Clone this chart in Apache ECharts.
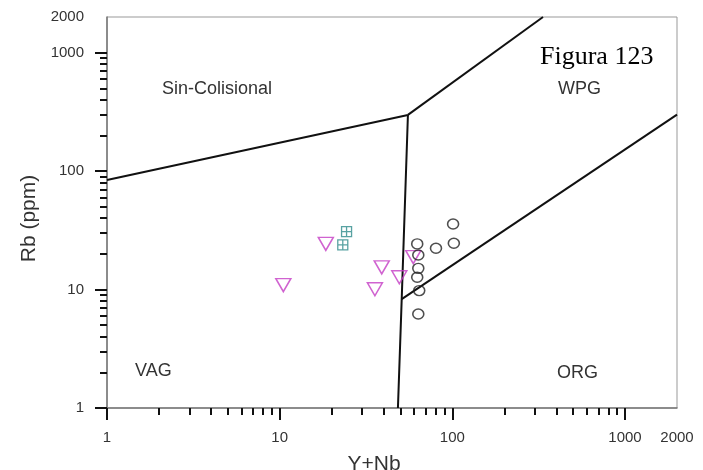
<!DOCTYPE html>
<html>
<head>
<meta charset="utf-8">
<script src="https://cdn.jsdelivr.net/npm/echarts@6/dist/echarts.min.js"></script>
<style>
html, body { margin: 0; padding: 0; background: #fff; }
#chart { width: 703px; height: 470px; }
</style>
</head>
<body>
<div id="chart"></div>
<script>
// tick values for both log axes
var majorTicks = [1, 10, 100, 1000];
var minorTicks = [2, 3, 4, 5, 6, 7, 8, 9, 20, 30, 40, 50, 60, 70, 80, 90, 200, 300, 400, 500, 600, 700, 800, 900];
var tickLabels = [1, 10, 100, 1000, 2000];

// field boundaries [Y+Nb, Rb]
var lineSynColg = [[1, 84], [55.3, 298]];
var lineWpgTop = [[55.3, 298], [335, 2000]];
var lineVagWpg = [[55.3, 298], [50.9, 8.3], [48.4, 1]];
var lineOrg = [[50.9, 8.3], [2000, 300]];

// samples [Y+Nb, Rb]
var triangles = [[10.5, 10.9], [18.5, 24.3], [39, 15.4], [35.6, 10.06], [49.3, 12.7], [59.4, 18.8]];
var squares = [[23.2, 23.8], [24.4, 30.8]];
var circles = [[101, 35.8], [62.6, 24.3], [80.4, 22.3], [102, 24.6], [63.5, 19.6], [63.5, 15.1], [62.6, 12.7], [64.3, 9.8], [63.5, 6.22]];

var font = 'Liberation Sans, Arial, sans-serif';
function fmt(v) { return String(Math.round(v)); }

function logAxis(extra) {
    var a = {
        type: 'log',
        logBase: 10,
        min: 1,
        max: 2000,
        splitLine: { show: false },
        axisLine: { show: true, lineStyle: { color: '#777', width: 1.5 } },
        axisTick: { show: true, inside: false, length: 12, customValues: majorTicks, lineStyle: { color: '#111', width: 2 } }
    };
    for (var k in extra) a[k] = extra[k];
    return a;
}

function minorAxis(pos) {
    return {
        type: 'log',
        logBase: 10,
        min: 1,
        max: 2000,
        position: pos,
        splitLine: { show: false },
        axisLine: { show: false },
        axisTick: { show: true, inside: false, length: 7, customValues: minorTicks, lineStyle: { color: '#111', width: 2 } },
        axisLabel: { show: false }
    };
}

function boundary(data) {
    return {
        type: 'line',
        data: data,
        symbol: 'none',
        silent: true,
        lineStyle: { color: '#111', width: 2 },
        z: 3
    };
}

var chart = echarts.init(document.getElementById('chart'));
chart.setOption({
    animation: false,
    backgroundColor: '#fff',
    grid: {
        left: 107,
        top: 17,
        width: 570,
        height: 391,
        outerBoundsMode: 'none',
        containLabel: false,
        show: true,
        borderColor: '#999',
        borderWidth: 1
    },
    xAxis: [
        logAxis({
            position: 'bottom',
            name: 'Y+Nb',
            nameLocation: 'middle',
            nameGap: 46,
            nameTextStyle: { fontSize: 21, color: '#333', fontFamily: font, padding: [0, 36, 0, 0] },
            axisLabel: { customValues: tickLabels, formatter: fmt, fontSize: 15, color: '#333', fontFamily: font, margin: 22 }
        }),
        minorAxis('bottom')
    ],
    yAxis: [
        logAxis({
            position: 'left',
            name: 'Rb (ppm)',
            nameLocation: 'middle',
            nameGap: 66,
            nameTextStyle: { fontSize: 21, color: '#333', fontFamily: font, padding: [0, 12, 0, 0] },
            axisLabel: { customValues: tickLabels, formatter: fmt, fontSize: 15, color: '#333', fontFamily: font, margin: 23 }
        }),
        minorAxis('left')
    ],
    series: [
        boundary(lineSynColg),
        boundary(lineWpgTop),
        boundary(lineVagWpg),
        boundary(lineOrg),
        {
            type: 'scatter',
            data: triangles,
            symbol: 'triangle',
            symbolRotate: 180,
            symbolSize: [15, 13],
            itemStyle: { color: 'none', borderColor: '#c43cc4', borderWidth: 1.5 },
            z: 4
        },
        {
            type: 'scatter',
            data: squares,
            symbol: 'path://M0,0H10V10H0Z M5,0V10 M0,5H10',
            symbolSize: 10,
            itemStyle: { color: 'none', borderColor: '#2e8b8b', borderWidth: 1.3 },
            z: 4
        },
        {
            type: 'scatter',
            data: circles,
            symbol: 'circle',
            symbolSize: [11, 10],
            itemStyle: { color: 'none', borderColor: '#222', borderWidth: 1.5 },
            z: 4
        }
    ],
    graphic: [
        { type: 'text', left: 162, top: 80, style: { text: 'Sin-Colisional', font: '18px ' + font, fill: '#333' } },
        { type: 'text', left: 558, top: 80, style: { text: 'WPG', font: '18px ' + font, fill: '#333' } },
        { type: 'text', left: 135, top: 362, style: { text: 'VAG', font: '18px ' + font, fill: '#333' } },
        { type: 'text', left: 557, top: 364, style: { text: 'ORG', font: '18px ' + font, fill: '#333' } },
        { type: 'text', left: 540, top: 44, style: { text: 'Figura 123', font: '26px Liberation Serif, Times New Roman, serif', fill: '#000' } }
    ]
});
</script>
</body>
</html>
